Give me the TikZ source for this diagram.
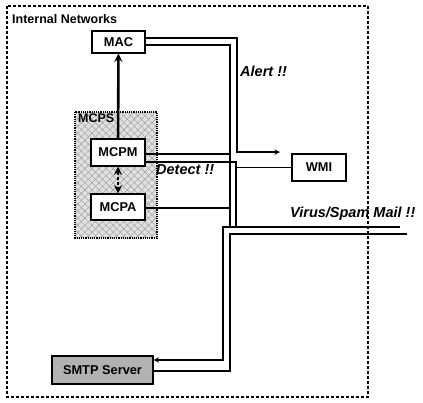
\documentclass[tikz,border=0pt]{standalone}
\usepackage{fontspec}
\setmainfont{Liberation Sans}
\usetikzlibrary{patterns.meta}

\begin{document}
\begin{tikzpicture}[x=1pt,y=-1pt,>=stealth,
  box/.style={draw,line width=1.2pt,fill=white,minimum width=54pt,minimum height=27pt,inner sep=1pt,font=\fontsize{12.8}{14}\selectfont\bfseries},
  title/.style={anchor=west,inner sep=0pt,font=\fontsize{12.5}{14}\selectfont\bfseries},
  lab/.style={anchor=west,inner sep=0pt,font=\fontsize{14.5}{16}\selectfont\bfseries\itshape},
  bus/.style={line width=1.4pt}]
\useasboundingbox (0,0) rectangle (423,402);
\draw[line width=1.3pt,densely dashed] (7,6) rectangle (368,397);
\node[title] (net) at (12,19.5) {Internal Networks};
% MCPS area
\fill[black!12] (75,112) rectangle (157,238);
\foreach \ang in {45,-45}
  \fill[pattern={Lines[angle=\ang,distance=5pt,line width=.4pt]},pattern color=black!40] (75,112) rectangle (157,238);
\draw[line width=1.2pt,densely dotted] (75,112) rectangle (157,238);
\node[title,anchor=north west] (mcps) at (78,114) {MCPS};

\node[box,minimum width=53pt,minimum height=22pt] (MAC) at (118.5,42) {MAC};
\node[box] (MCPM) at (118,152.5) {MCPM};
\node[box,minimum height=26pt] (MCPA) at (118,207) {MCPA};
\node[box] (WMI) at (319,167.5) {WMI};
\node[box,fill=black!30,minimum width=101pt,minimum height=28pt] (SMTP) at (102.5,370) {SMTP Server};

\coordinate (a1) at (237,152);
\coordinate (alert) at (280,152);
\coordinate (b1) at (230,227);
\coordinate (m1) at (230,154);
\coordinate (d1) at (236,162);
\coordinate (d2) at (236,227);
\coordinate (m2) at (230,208);
\coordinate (inA) at (400,227);
\coordinate (s1) at (223,227);
\coordinate (inB) at (407,234);
\coordinate (s2) at (230,234);

\draw[bus,->] ([yshift=4pt]MAC.east) -| (a1) -- (alert);
\draw[bus] ([yshift=-3pt]MAC.east) -| (b1);
\draw[bus] (MCPM.east |- m1) -- (m1);
\draw[bus] (MCPM.east |- d1) -- (d1) |- (WMI.west);
\draw[bus] (d1) -- (d2);
\draw[bus] (MCPA.east |- m2) -- (m2);
\draw[bus,->] (inA) -- (s1) |- ([yshift=10pt]SMTP.east);
\draw[bus] (inB) -- (s2) |- ([yshift=-1pt]SMTP.east);
\draw[->,line width=2.6pt] (MCPM) -- (MAC);
\draw[<->,line width=2.6pt,dash pattern=on 3pt off 2pt] (MCPM) -- (MCPA);

\node[lab] (alertlab) at (240,71) {Alert !!};
\node[lab] (detect) at (156,170) {Detect !!};
\node[lab] (virus) at (290,214) {Virus/Spam Mail !!};
\end{tikzpicture}
\end{document}
